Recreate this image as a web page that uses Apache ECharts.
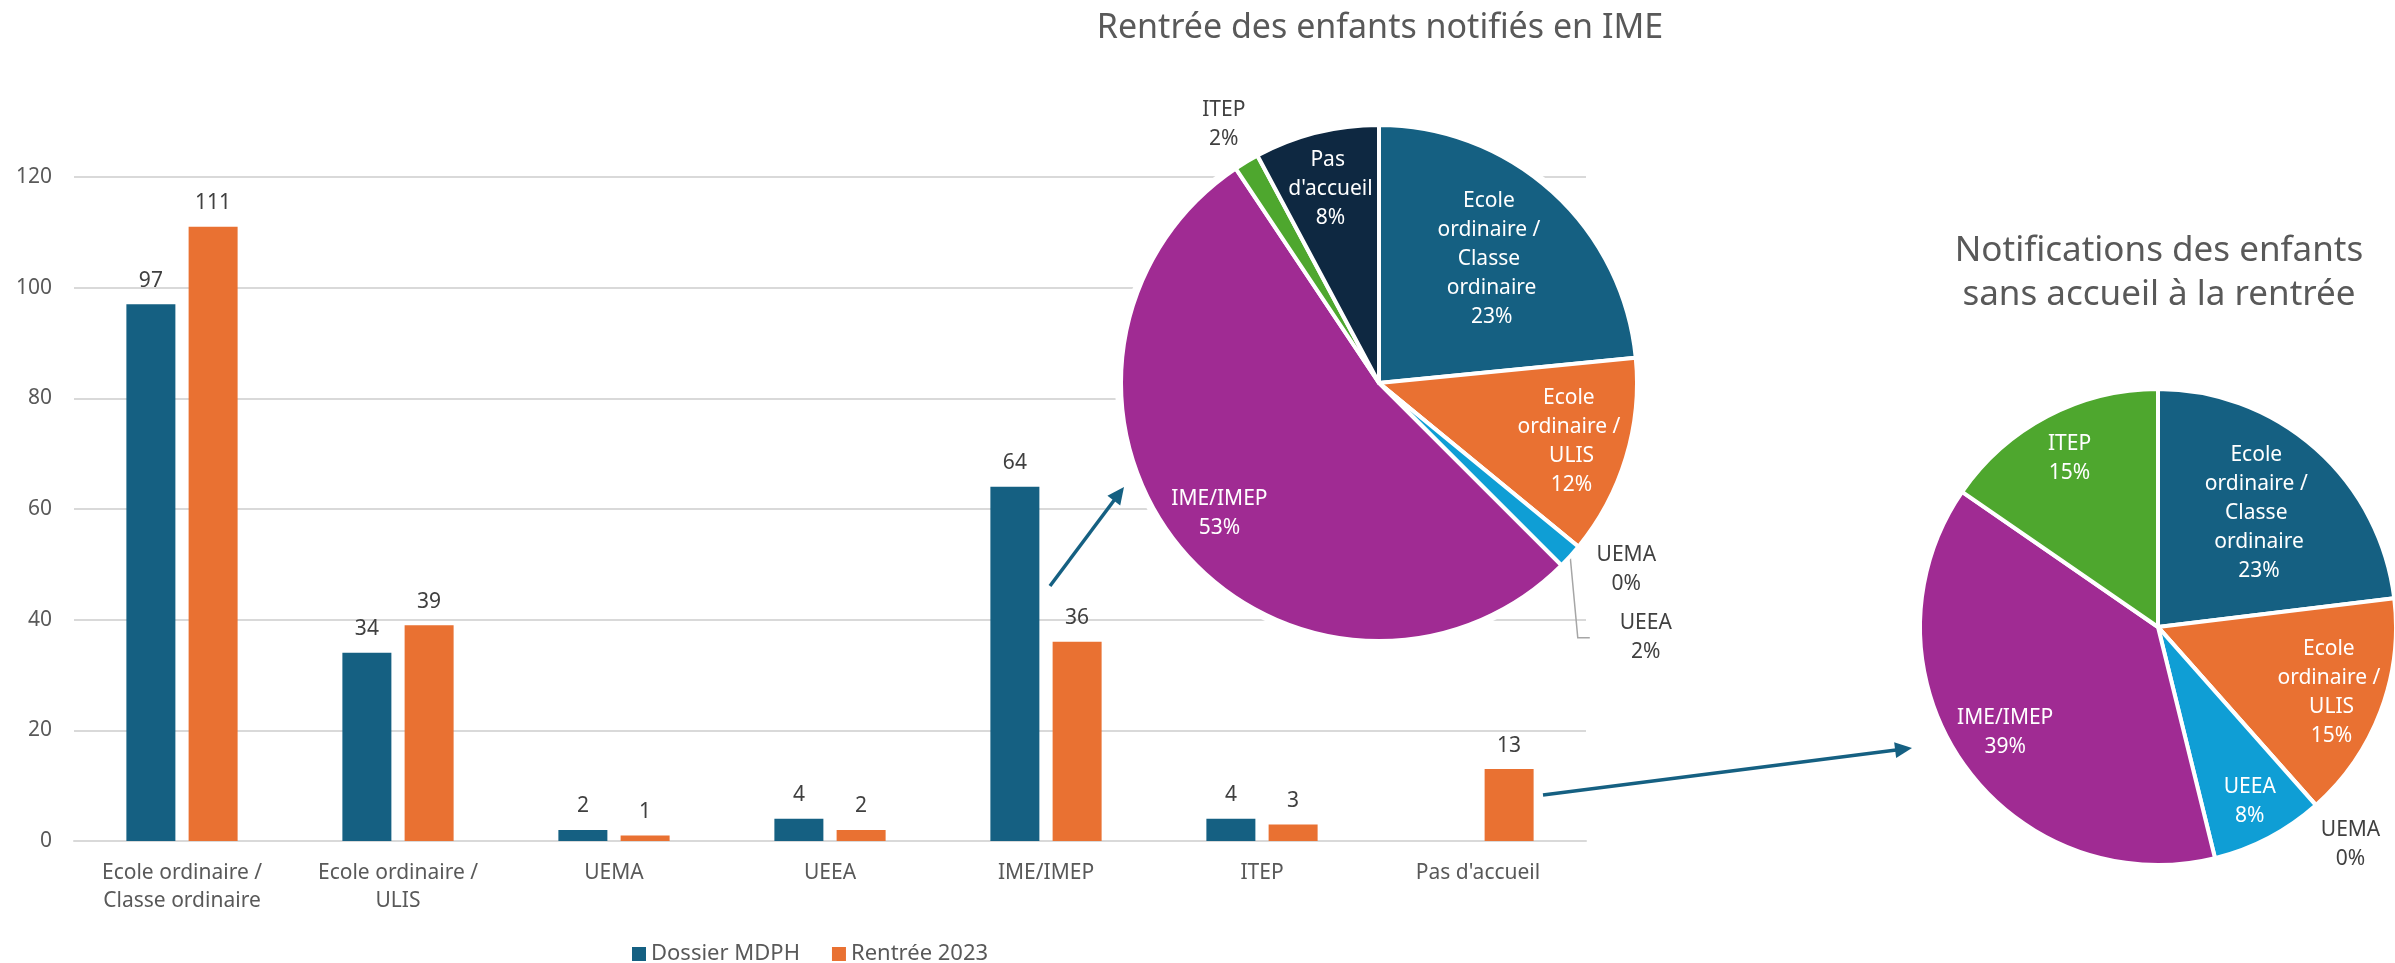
<!DOCTYPE html>
<html><head><meta charset="utf-8">
<script src="https://cdn.jsdelivr.net/npm/echarts@6/dist/echarts.min.js"></script>
<style>html,body{margin:0;padding:0;background:#fff}#c{width:2395px;height:963px}</style>
</head><body><div id="c"></div>
<script>
// ---------- DATA ----------
const categories = ['Ecole ordinaire / Classe ordinaire', 'Ecole ordinaire / ULIS', 'UEMA', 'UEEA', 'IME/IMEP', 'ITEP', "Pas d'accueil"];
const seriesNames = ['Dossier MDPH', 'Rentrée 2023'];
const dossierMDPH = [97, 34, 2, 4, 64, 4, null];
const rentree2023 = [111, 39, 1, 2, 36, 3, 13];
const yTicks = [0, 20, 40, 60, 80, 100, 120];

const pie1Title = 'Rentrée des enfants notifiés en IME';
const pie1Categories = ['Ecole ordinaire / Classe ordinaire', 'Ecole ordinaire / ULIS', 'UEMA', 'UEEA', 'IME/IMEP', 'ITEP', "Pas d'accueil"];
const pie1Values = [15, 8, 0, 1, 34, 1, 5];

const pie2Title = 'Notifications des enfants\nsans accueil à la rentrée';
const pie2Categories = ['Ecole ordinaire / Classe ordinaire', 'Ecole ordinaire / ULIS', 'UEMA', 'UEEA', 'IME/IMEP', 'ITEP'];
const pie2Values = [3, 2, 0, 1, 5, 2];

// ---------- STYLE / LAYOUT ----------
const FONT = 'Noto Sans';
const BLUE = '#156082', ORANGE = '#E97132';
const catColor = {
  'Ecole ordinaire / Classe ordinaire': '#156082',
  'Ecole ordinaire / ULIS': '#E97132',
  'UEMA': '#196B24',
  'UEEA': '#0F9ED5',
  'IME/IMEP': '#A02B93',
  'ITEP': '#4EA72E',
  "Pas d'accueil": '#0E2841'
};
const pie1Layout = { cx: 1379, cy: 383, r: 258 };
const pie2Layout = { cx: 2158, cy: 627, r: 238 };
const LINE2 = 12;    // horizontal part of the label leader line
const LABEL_DIST = 5;
// label placement: inside/outside, radial factor (relative to radius), angular nudge (deg)
const pie1LabelPlace = [['in', 0.65, 0], ['in', 0.78, 0], ['out', 1.2, -2.4], ['line', 1.43, 1.5], ['in', 0.8, 0], ['out', 1.17, 0], ['in', 0.775, 0]];
const pie2LabelPlace = [['in', 0.64, 0], ['in', 0.78, 0], ['out', 1.22, 0], ['in', 0.83, 0], ['in', 0.78, 0], ['in', 0.8, 0]];

function pieData(cats, vals, place) {
  return cats.map((c, i) => {
    const p = place[i][0];
    return {
      name: c, value: vals[i],
      itemStyle: { color: catColor[c] },
      label: p === 'in'
        ? { position: 'inside', color: '#ffffff' }
        : { position: 'outside', color: '#404040' },
      labelLine: { show: p === 'line' }
    };
  });
}

function pieLabelLayout(lay, place) {
  return function (params) {
    const i = params.dataIndex;
    const k = place[i][1];
    const nudge = place[i][2] * Math.PI / 180;
    const lr = params.labelRect;
    let ax;
    const ay = lr.y + lr.height / 2;
    // recover the radial point the library placed the label from
    if (params.align === 'left') ax = lr.x - LABEL_DIST - LINE2;
    else if (params.align === 'right') ax = lr.x + lr.width + LABEL_DIST + LINE2;
    else ax = lr.x + lr.width / 2;
    const a = Math.atan2(ay - lay.cy, ax - lay.cx) + nudge;
    return {
      x: lay.cx + Math.cos(a) * k * lay.r,
      y: lay.cy + Math.sin(a) * k * lay.r,
      align: 'center',
      verticalAlign: 'middle'
    };
  };
}

function pieSeries(lay, cats, vals, place) {
  return {
    type: 'pie',
    center: [lay.cx, lay.cy],
    radius: [0, lay.r],
    startAngle: 90,
    clockwise: true,
    avoidLabelOverlap: false,
    percentPrecision: 0,
    silent: true,
    z: 3,
    itemStyle: { borderColor: '#ffffff', borderWidth: 4 },
    label: {
      fontFamily: FONT, fontSize: 21, lineHeight: 29,
      formatter: '{b}\n{d}%',
      width: 112, overflow: 'break',
      distanceToLabelLine: LABEL_DIST
    },
    labelLine: { length: 30, length2: LINE2, lineStyle: { color: '#a6a6a6', width: 1.5 } },
    labelLayout: pieLabelLayout(lay, place),
    emphasis: { disabled: true },
    data: pieData(cats, vals, place)
  };
}

function arrow(x1, y1, x2, y2) {
  const L = Math.hypot(x2 - x1, y2 - y1);
  const ux = (x2 - x1) / L, uy = (y2 - y1) / L;
  const px = -uy, py = ux;
  const hl = 17, hw = 8;
  const bx = x2 - ux * hl, by = y2 - uy * hl;
  return [
    { type: 'line', z: 20, shape: { x1, y1, x2: bx + ux * 3, y2: by + uy * 3 },
      style: { stroke: BLUE, lineWidth: 3.5 } },
    { type: 'polygon', z: 20, shape: { points: [[x2, y2], [bx + px * hw, by + py * hw], [bx - px * hw, by - py * hw]] },
      style: { fill: BLUE } }
  ];
}

const chart = echarts.init(document.getElementById('c'), null, { renderer: 'canvas' });
chart.setOption({
  animation: false,
  backgroundColor: '#ffffff',
  textStyle: { fontFamily: FONT },
  title: [
    { text: pie1Title, left: 1380, top: 6, textAlign: 'center', padding: 0,
      textStyle: { fontFamily: FONT, fontSize: 34, fontWeight: 'normal', color: '#595959', lineHeight: 44 } },
    { text: pie2Title, left: 2159, top: 229, textAlign: 'center', padding: 0,
      textStyle: { fontFamily: FONT, fontSize: 35, fontWeight: 'normal', color: '#595959', lineHeight: 44 } }
  ],
  legend: {
    data: seriesNames, left: 632, top: 943, padding: 0,
    icon: 'rect', itemWidth: 14, itemHeight: 14, itemGap: 32,
    textStyle: { fontFamily: FONT, fontSize: 22, color: '#595959' }
  },
  grid: { left: 74, right: 809, top: 177, bottom: 122, containLabel: false },
  xAxis: {
    type: 'category', data: categories,
    axisTick: { show: false },
    axisLine: { lineStyle: { color: '#d9d9d9', width: 2 } },
    axisLabel: {
      interval: 0, margin: 18, fontFamily: FONT, fontSize: 21, lineHeight: 28, color: '#595959',
      formatter: v => v.replace(' / ', ' /\n')
    }
  },
  yAxis: {
    type: 'value', min: yTicks[0], max: yTicks[yTicks.length - 1], interval: yTicks[1] - yTicks[0],
    axisLine: { show: false }, axisTick: { show: false },
    splitLine: { lineStyle: { color: '#d9d9d9', width: 2 } },
    axisLabel: { margin: 22, fontFamily: FONT, fontSize: 21, color: '#595959' }
  },
  graphic: [
    { type: 'circle', z: 1, silent: true, shape: { cx: pie1Layout.cx, cy: pie1Layout.cy, r: pie1Layout.r + 6 }, style: { fill: '#ffffff' } },
    ...arrow(1050, 586, 1124, 487),
    ...arrow(1543, 795, 1912, 748)
  ],
  series: [
    { name: seriesNames[0], type: 'bar', data: dossierMDPH, barWidth: 49, barGap: '27%',
      itemStyle: { color: BLUE },
      label: { show: true, position: 'top', distance: 13, fontFamily: FONT, fontSize: 21, color: '#404040' } },
    { name: seriesNames[1], type: 'bar', data: rentree2023, barWidth: 49, barGap: '27%',
      itemStyle: { color: ORANGE },
      label: { show: true, position: 'top', distance: 13, fontFamily: FONT, fontSize: 21, color: '#404040' } },
    pieSeries(pie1Layout, pie1Categories, pie1Values, pie1LabelPlace),
    pieSeries(pie2Layout, pie2Categories, pie2Values, pie2LabelPlace)
  ]
});
</script>
</body></html>
